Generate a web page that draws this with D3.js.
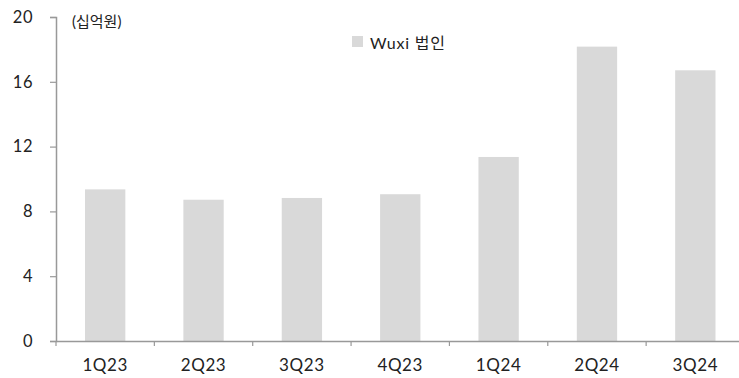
<!DOCTYPE html>
<html>
<head>
<meta charset="utf-8">
<script src="https://cdn.jsdelivr.net/npm/d3@7/dist/d3.min.js"></script>
<style>
  body { margin: 0; background: #fff; }
  svg { display: block; }
  text { font-family: "Lato", "Noto Sans CJK KR", sans-serif; fill: #222; }
</style>
</head>
<body>
<svg id="chart" width="739" height="378"></svg>
<script>
// Quarterly figures for the Wuxi subsidiary (unit: KRW bn)
const categories = ["1Q23", "2Q23", "3Q23", "4Q23", "1Q24", "2Q24", "3Q24"];
const wuxiValues = [9.36, 8.72, 8.83, 9.06, 11.36, 18.17, 16.71];
const yTicks = [0, 4, 8, 12, 16, 20];
const seriesName = "Wuxi 법인";
const unitLabel = "(십억원)";

const svg = d3.select("#chart");
const plot = { left: 56, right: 744.5, top: 17, bottom: 341 };

const x = d3.scaleBand().domain(categories).range([plot.left, plot.right]).paddingInner(0.59).paddingOuter(0.295);
const y = d3.scaleLinear().domain([0, 20]).range([plot.bottom, plot.top]);

// bars
svg.append("g").selectAll("rect").data(categories).join("rect")
  .attr("x", d => x(d))
  .attr("width", x.bandwidth())
  .attr("y", (d, i) => y(wuxiValues[i]))
  .attr("height", (d, i) => y(0) - y(wuxiValues[i]))
  .attr("fill", "#d9d9d9");

// y axis
const yAxis = svg.append("g").attr("transform", `translate(${plot.left},0)`)
  .call(d3.axisLeft(y).tickValues(yTicks).tickSize(6).tickPadding(17).tickFormat(d3.format("d")));
yAxis.select(".domain").attr("stroke", "#999").attr("stroke-width", 1.5);
yAxis.selectAll(".tick line").attr("stroke", "#999").attr("stroke-width", 1.2);
yAxis.selectAll(".tick text").attr("font-size", 16.5).attr("letter-spacing", 0.5).style("fill", "#222");

// x axis: ticks sit on category boundaries
const xAxis = svg.append("g").attr("transform", `translate(0,${plot.bottom})`)
  .call(d3.axisBottom(x).tickSize(0).tickPadding(18));
xAxis.select(".domain").attr("stroke", "#999").attr("stroke-width", 1.5);
xAxis.selectAll(".tick text").attr("font-size", 17).attr("letter-spacing", 0.6).style("fill", "#222");
const step = x.step();
svg.append("g").selectAll("line").data(categories).join("line")
  .attr("x1", d => x(d) - x.paddingOuter() * step)
  .attr("x2", d => x(d) - x.paddingOuter() * step)
  .attr("y1", plot.bottom).attr("y2", plot.bottom + 5)
  .attr("stroke", "#999").attr("stroke-width", 1.2);

// unit label
svg.append("text").attr("x", 72).attr("y", 27).attr("font-size", 15).text(unitLabel);

// legend
svg.append("rect").attr("x", 352).attr("y", 36).attr("width", 11).attr("height", 11).attr("fill", "#d9d9d9");
svg.append("text").attr("x", 370).attr("y", 48.5).attr("font-size", 16).attr("letter-spacing", 0.8).text(seriesName);
</script>
</body>
</html>
